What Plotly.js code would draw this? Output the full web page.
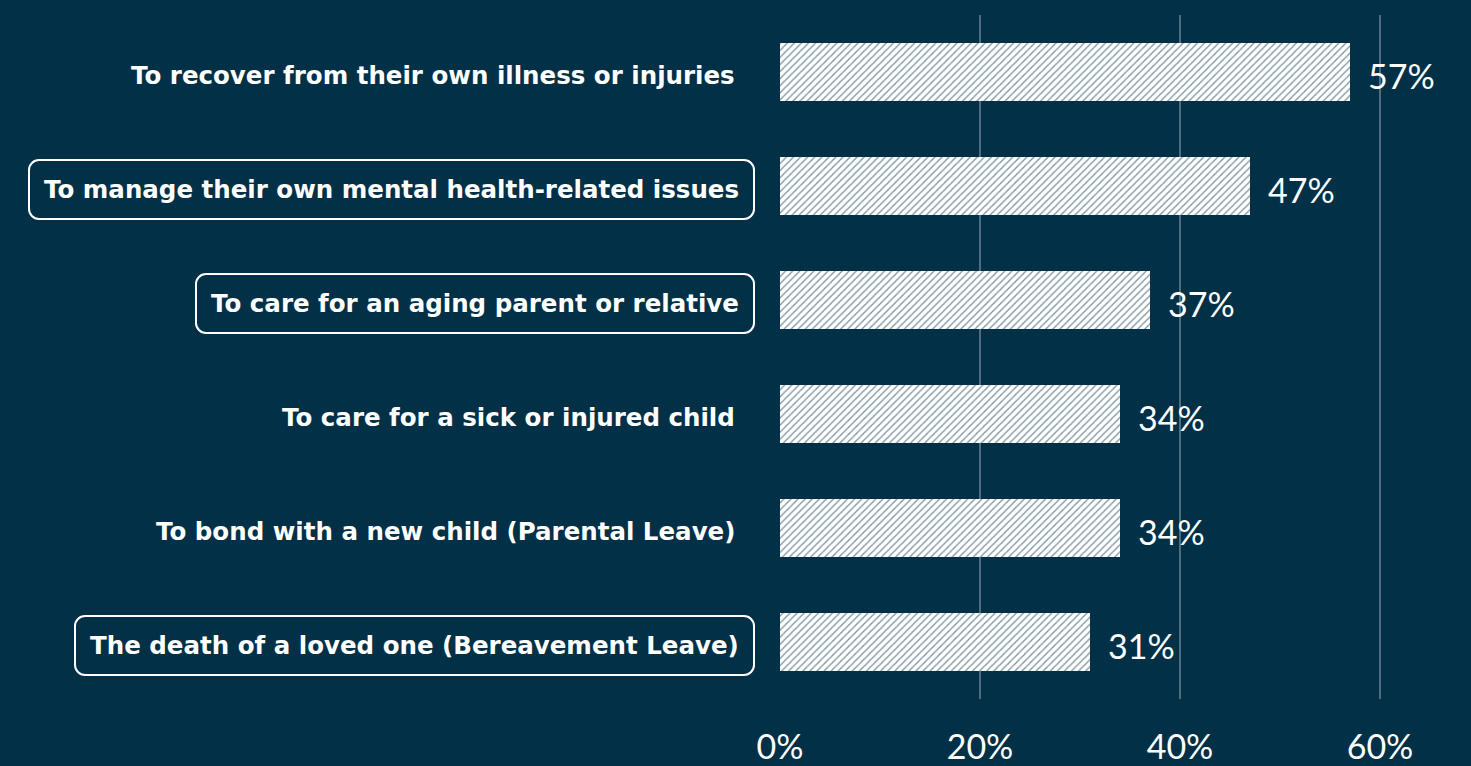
<!DOCTYPE html>
<html>
<head>
<meta charset="utf-8">
<script src="https://cdn.plot.ly/plotly-3.0.1.min.js"></script>
<style>
  html, body { margin: 0; padding: 0; background: #023047; }
  #chart { width: 1471px; height: 766px; }
</style>
</head>
<body>
<div id="chart"></div>
<script>
// ---- Data ----
const categories = [
  "To recover from their own illness or injuries",
  "To manage their own mental health-related issues",
  "To care for an aging parent or relative",
  "To care for a sick or injured child",
  "To bond with a new child (Parental Leave)",
  "The death of a loved one (Bereavement Leave)"
];
const values = [57, 47, 37, 34, 34, 31];
const tickValues = [0, 20, 40, 60];
const tickLabels = ["0%", "20%", "40%", "60%"];

// ---- Styling ----
const BG = "#023047";
const highlighted = new Set([
  "To manage their own mental health-related issues",
  "To care for an aging parent or relative",
  "The death of a loved one (Bereavement Leave)"
]);

const trace = {
  type: "bar",
  orientation: "h",
  x: values,
  y: categories,
  width: 0.51,
  marker: {
    color: "#ffffff",
    line: { width: 0 },
    pattern: { shape: "/", fgcolor: BG, bgcolor: "#ffffff", size: 5, solidity: 0.28, fillmode: "overlay" }
  },
  hoverinfo: "skip"
};

const annotations = [];
categories.forEach((c, i) => {
  const boxed = highlighted.has(c);
  annotations.push({
    xref: "paper", yref: "y", x: 0, y: c,
    xanchor: "right", yanchor: "middle",
    xshift: boxed ? -25 : -45, yshift: -3,
    text: c, showarrow: false,
    font: { family: "DejaVu Sans", size: 24.5, color: "#ffffff", weight: "bold" },
    bordercolor: boxed ? "#ffffff" : "rgba(0,0,0,0)",
    borderwidth: boxed ? 2 : 0,
    borderpad: boxed ? 14 : 0
  });
  annotations.push({
    xref: "x", yref: "y", x: values[i], y: c,
    xanchor: "left", yanchor: "middle", xshift: 16, yshift: -3,
    text: values[i] + "%", showarrow: false,
    font: { family: "Lato", size: 34, color: "#ffffff" }
  });
});

const layout = {
  width: 1471, height: 766,
  paper_bgcolor: BG, plot_bgcolor: BG,
  margin: { l: 780, r: 0, t: 15, b: 67 },
  showlegend: false,
  xaxis: {
    range: [0, 69.1],
    tickvals: tickValues, ticktext: tickLabels,
    showgrid: true, gridcolor: "rgba(255,255,255,0.3)", gridwidth: 1.5,
    zeroline: false, showline: false, ticks: "",
    ticklabelstandoff: 25,
    tickfont: { family: "Lato", size: 34, color: "#ffffff" },
    fixedrange: true
  },
  yaxis: {
    type: "category", autorange: "reversed",
    showticklabels: false, showgrid: false, zeroline: false, showline: false, ticks: "",
    fixedrange: true
  },
  annotations: annotations
};

Plotly.newPlot("chart", [trace], layout, { displayModeBar: false, staticPlot: true }).then(() => {
  document.querySelectorAll(".annotation rect.bg").forEach(r => {
    r.setAttribute("rx", 10);
    r.setAttribute("ry", 10);
  });
});
</script>
</body>
</html>
